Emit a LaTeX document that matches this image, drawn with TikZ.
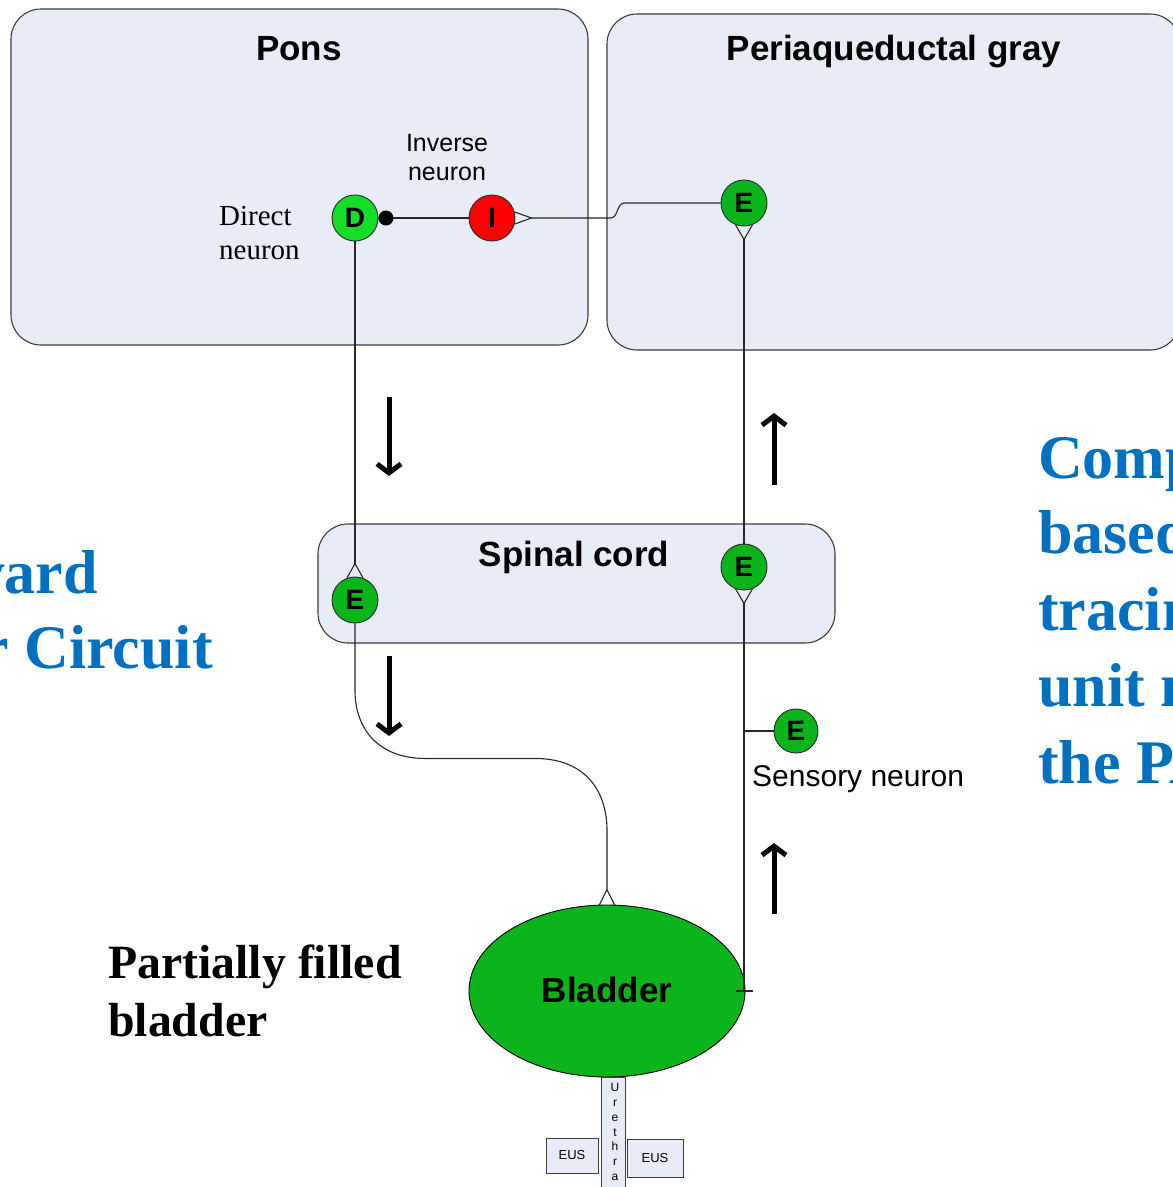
\documentclass[tikz,border=0pt]{standalone}
\usepackage{fontspec}
\setmainfont{Liberation Serif}
\setsansfont{Liberation Sans}
\usetikzlibrary{shapes.geometric,arrows.meta,calc}
\definecolor{regionfill}{RGB}{231,236,247}
\definecolor{regionline}{RGB}{60,60,60}
\definecolor{wirecol}{RGB}{40,40,40}
\definecolor{lightgreen}{RGB}{20,222,38}
\definecolor{deepgreen}{RGB}{11,180,26}
\definecolor{titleblue}{RGB}{0,112,192}
\begin{document}
\begin{tikzpicture}[x=1pt,y=-1pt,
  region/.style={draw=regionline, fill=regionfill, line width=1.1pt,
    rounded corners=30pt, inner sep=0pt},
  regiontitle/.style={anchor=base, inner sep=0pt, font=\sffamily\bfseries\fontsize{35}{40}\selectfont},
  cell/.style={circle, draw=wirecol, line width=0.9pt, minimum size=46pt,
    inner sep=0pt, font=\sffamily\bfseries\fontsize{28}{32}\selectfont},
  wire/.style={draw=wirecol, line width=1.1pt},
  flow/.style={line width=5pt, -{Straight Barb[length=9pt,width=24pt]}},
  label/.style={inner sep=0pt, font=\sffamily\fontsize{25}{29}\selectfont},
  serifnote/.style={anchor=base west, inner sep=0pt, font=\fontsize{29}{34}\selectfont},
  bignote/.style={anchor=base west, inner sep=0pt, font=\bfseries\fontsize{47.8}{58}\selectfont},
  bluetitle/.style={text=titleblue, inner sep=0pt, font=\bfseries\fontsize{62}{76}\selectfont},
  smallbox/.style={draw=regionline, fill=regionfill, line width=0.8pt, inner sep=0pt,
    font=\sffamily\fontsize{13}{15}\selectfont}
]
\useasboundingbox (0,0) rectangle (1173,1187);
\clip (0,0) rectangle (1173,1187);
\fill[white] (0,0) rectangle (1173,1187);

% brain and spinal regions
\node[region, minimum width=577pt, minimum height=336pt] (pons) at (299.5,177) {};
\node[region, minimum width=573pt, minimum height=336pt] (pag) at (893.5,182) {};
\node[region, minimum width=517pt, minimum height=119pt] (spinal) at (576.5,583.5) {};
\node[regiontitle] (ponsT) at (299,60) {Pons};
\node[regiontitle] (pagT) at (894,60) {Periaqueductal gray};
\node[regiontitle] (spinalT) at (574,566) {Spinal cord};

% bladder and outlet
\node[ellipse, draw=black, line width=0.9pt, fill=deepgreen, minimum width=276pt,
  minimum height=172pt, inner sep=0pt] (B) at (607,991) {};
\node[regiontitle] (BT) at (607,1002) {Bladder};
\node[smallbox, minimum width=24pt, minimum height=120pt] (ureth) at (613,1137) {};
\node[align=center, inner sep=0pt, font=\sffamily\fontsize{12}{14.7}\selectfont]
  (urethT) at (615,1132) {U\\r\\e\\t\\h\\r\\a};
\node[smallbox, minimum width=52pt, minimum height=35pt] (eusL) at (572,1155.5) {EUS};
\node[smallbox, minimum width=56pt, minimum height=38pt] (eusR) at (655,1158) {EUS};

% neurons
\node[cell, fill=lightgreen] (D) at (355,218) {D};
\node[cell, fill=red] (I) at (492,218) {I};
\node[cell, fill=deepgreen] (PE) at (744,203) {E};
\node[cell, fill=deepgreen] (SE1) at (355,600) {E};
\node[cell, fill=deepgreen] (SE2) at (744,567) {E};
\node[cell, fill=deepgreen, minimum size=44pt] (SN) at (796,731) {E};

% synapse points
\coordinate (iapex) at ($(I.east)+(16,0)$);
\coordinate (peapex) at ($(PE.south)+(0,13)$);
\coordinate (se1apex) at ($(SE1.north)+(0,-13)$);
\coordinate (se2apex) at ($(SE2.south)+(0,13)$);
\coordinate (bapex) at ($(B.north)+(0,-15)$);
\coordinate (tick) at (se2apex |- B.east);

% connectors
\draw[wire, {Circle[length=15pt,width=15pt,fill=black,color=black]}-] (D) -- (I);
\draw[wire] (I.15) -- (iapex) -- (I.-15);
\draw[wire] (iapex) -- ++(79,0) .. controls +(8,0) and +(-8,0) .. ++(14,-15) -- (PE.west);
\draw[wire] (PE.-111) -- (peapex) -- (PE.-69);
\draw[wire] (peapex) -- (SE2.north);
\draw[wire] (SE2.-111) -- (se2apex) -- (SE2.-69);
\draw[wire] (se2apex) -- (tick);
\draw[wire] ($(tick)+(-8,0)$) -- ($(tick)+(9,0)$);
\draw[wire] (se2apex |- SN.west) -- (SN.west);
\draw[wire] (D.south) -- (se1apex);
\draw[wire] (SE1.110) -- (se1apex) -- (SE1.70);
\draw[wire] (SE1.south) -- ++(0,67) .. controls +(0,40) and +(-45,0) .. ++(70,68)
  -- ++(110,0) .. controls +(50,0) and +(0,-40) .. ++(72,72) -- (bapex);
\draw[wire] ($(B.north)+(-8,1)$) -- (bapex) -- ($(B.north)+(8,1)$);

% direction of signal flow
\draw[flow] (389,397) -- (389,476);
\draw[flow] (389,656) -- (389,736);
\draw[flow] (774,485) -- (774,413);
\draw[flow] (774,914) -- (774,843);

% labels
\node[label, anchor=base] (invA) at (447,151) {Inverse};
\node[label, anchor=base] (invB) at (447,180) {neuron};
\node[serifnote] (dirA) at (219,225) {Direct};
\node[serifnote] (dirB) at (219,259) {neuron};
\node[anchor=base west, inner sep=0pt, font=\sffamily\fontsize{30}{34}\selectfont] (sens) at (752,786) {Sensory neuron};
\node[bignote] (pfA) at (108,978) {Partially filled};
\node[bignote] (pfB) at (108,1036) {bladder};

% headings
\node[bluetitle, anchor=base east] (lA) at (98,593) {Forward};
\node[bluetitle, anchor=base east] (lB) at (213,668) {Bladder Circuit};
\node[bluetitle, anchor=base west] (rA) at (1038,478) {Computational};
\node[bluetitle, anchor=base west] (rB) at (1038,553) {based on};
\node[bluetitle, anchor=base west] (rC) at (1038,630) {tracing of};
\node[bluetitle, anchor=base west] (rD) at (1038,706) {unit neurons in};
\node[bluetitle, anchor=base west] (rE) at (1038,783) {the PAG};
\end{tikzpicture}
\end{document}
